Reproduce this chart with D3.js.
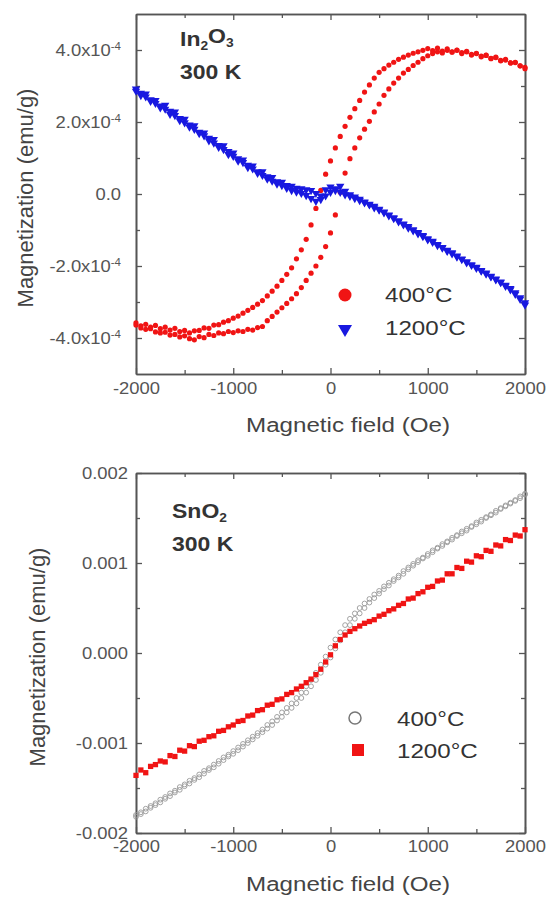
<!DOCTYPE html>
<html>
<head>
<meta charset="utf-8">
<script src="https://cdn.jsdelivr.net/npm/d3@7/dist/d3.min.js"></script>
<style>
  body { margin: 0; background: #fff; }
  text { font-family: "Liberation Sans", Arial, sans-serif; }
</style>
</head>
<body>
<script>
//field sweep (Oe), same grid for every branch
const fields = [-2000,-1950,-1900,-1850,-1800,-1750,-1700,-1650,-1600,-1550,-1500,-1450,-1400,-1350,-1300,-1250,-1200,-1150,-1100,-1050,
  -1000,-950,-900,-850,-800,-750,-700,-650,-600,-550,-500,-450,-400,-350,-300,-250,-200,-150,-100,-50,
  0,50,100,150,200,250,300,350,400,450,500,550,600,650,700,750,800,850,900,950,
  1000,1050,1100,1150,1200,1250,1300,1350,1400,1450,1500,1550,1600,1650,1700,1750,1800,1850,1900,1950,2000];

//In2O3, magnetization in units of 1e-4 emu/g
//400C, decreasing-field branch (listed from -2000 to 2000 Oe)
const in400Down = [-3.58,-3.66,-3.62,-3.70,-3.65,-3.74,-3.70,-3.78,-3.73,-3.82,-3.79,-3.86,-3.80,-3.79,-3.72,-3.73,-3.64,-3.63,-3.56,-3.52,
  -3.45,-3.39,-3.31,-3.23,-3.15,-3.06,-2.96,-2.83,-2.70,-2.56,-2.40,-2.23,-2.05,-1.80,-1.55,-1.26,-0.86,-0.40,0.10,0.55,
  0.92,1.28,1.60,1.88,2.13,2.37,2.60,2.83,3.03,3.22,3.38,3.48,3.58,3.66,3.74,3.80,3.86,3.91,3.95,3.99,
  4.04,3.98,4.05,3.97,4.03,3.94,3.99,3.90,3.95,3.86,3.90,3.81,3.85,3.76,3.80,3.70,3.74,3.64,3.66,3.56,3.52];
//400C, increasing-field branch
const in400Up = [-3.64,-3.72,-3.76,-3.74,-3.83,-3.86,-3.84,-3.92,-3.90,-3.97,-3.94,-4.02,-4.05,-3.96,-3.99,-3.90,-3.93,-3.86,-3.88,-3.82,
  -3.85,-3.80,-3.82,-3.76,-3.78,-3.71,-3.68,-3.52,-3.40,-3.28,-3.16,-3.04,-2.91,-2.77,-2.60,-2.40,-2.20,-2.00,-1.76,-1.46,
  -1.08,-0.58,0.05,0.58,0.98,1.28,1.56,1.80,2.02,2.28,2.50,2.74,2.92,3.08,3.22,3.36,3.46,3.57,3.66,3.76,
  3.84,3.90,3.95,3.92,3.99,3.95,4.00,3.93,3.96,3.88,3.91,3.83,3.86,3.77,3.79,3.71,3.72,3.64,3.65,3.56,3.48];
//1200C, two branches
const in1200Down = [2.92,2.80,2.78,2.62,2.60,2.45,2.47,2.30,2.28,2.10,2.08,1.92,1.90,1.72,1.70,1.55,1.52,1.35,1.34,1.18,
  1.14,0.98,0.95,0.80,0.78,0.62,0.62,0.48,0.46,0.34,0.33,0.24,0.22,0.16,0.15,0.12,0.10,0.02,-0.05,0.12,
  0.20,0.10,0.05,-0.02,-0.06,-0.12,-0.18,-0.24,-0.30,-0.38,-0.44,-0.52,-0.60,-0.68,-0.77,-0.85,-0.94,-1.02,-1.10,-1.18,
  -1.27,-1.34,-1.43,-1.50,-1.59,-1.66,-1.75,-1.82,-1.91,-1.98,-2.06,-2.14,-2.22,-2.30,-2.38,-2.46,-2.56,-2.66,-2.78,-2.92,-3.08];
const in1200Up = [2.86,2.74,2.70,2.58,2.52,2.40,2.36,2.22,2.18,2.04,1.98,1.86,1.80,1.68,1.62,1.48,1.42,1.30,1.24,1.10,
  1.05,0.92,0.88,0.74,0.70,0.58,0.52,0.42,0.36,0.28,0.24,0.16,0.10,0.06,0.02,-0.04,-0.12,-0.20,-0.15,-0.05,
  0.05,0.15,0.22,0.08,-0.02,-0.08,-0.14,-0.22,-0.28,-0.34,-0.42,-0.50,-0.58,-0.66,-0.74,-0.83,-0.90,-0.99,-1.07,-1.15,
  -1.24,-1.31,-1.40,-1.48,-1.56,-1.63,-1.72,-1.80,-1.88,-1.96,-2.03,-2.12,-2.19,-2.28,-2.36,-2.44,-2.53,-2.62,-2.74,-2.88,-3.02];

//SnO2, magnetization in units of 1e-3 emu/g
const sn400Up = [-1.82,-1.79,-1.76,-1.72,-1.69,-1.66,-1.62,-1.59,-1.55,-1.52,-1.48,-1.45,-1.41,-1.38,-1.34,-1.30,-1.27,-1.23,-1.19,-1.15,
  -1.12,-1.08,-1.04,-1.00,-0.96,-0.92,-0.88,-0.84,-0.80,-0.75,-0.71,-0.66,-0.61,-0.56,-0.50,-0.44,-0.37,-0.30,-0.22,-0.13,
  -0.05,0.05,0.14,0.23,0.31,0.38,0.44,0.50,0.56,0.61,0.66,0.71,0.75,0.80,0.84,0.88,0.93,0.97,1.01,1.05,
  1.08,1.12,1.16,1.19,1.23,1.26,1.30,1.33,1.36,1.40,1.43,1.46,1.50,1.53,1.56,1.60,1.63,1.66,1.69,1.72,1.76];
const sn400Down = [-1.80,-1.77,-1.73,-1.70,-1.67,-1.63,-1.60,-1.56,-1.53,-1.49,-1.46,-1.42,-1.39,-1.35,-1.31,-1.28,-1.24,-1.20,-1.16,-1.13,
  -1.09,-1.05,-1.01,-0.97,-0.93,-0.89,-0.85,-0.80,-0.76,-0.71,-0.66,-0.61,-0.56,-0.50,-0.44,-0.37,-0.30,-0.22,-0.13,-0.04,
  0.06,0.15,0.23,0.31,0.38,0.44,0.50,0.55,0.60,0.65,0.69,0.74,0.78,0.82,0.86,0.91,0.95,0.99,1.03,1.06,
  1.10,1.14,1.17,1.21,1.24,1.28,1.31,1.35,1.38,1.41,1.45,1.48,1.51,1.54,1.58,1.61,1.64,1.67,1.70,1.74,1.77];
const sn1200 = [-1.36,-1.30,-1.33,-1.26,-1.24,-1.20,-1.21,-1.14,-1.15,-1.08,-1.09,-1.03,-1.04,-0.98,-0.97,-0.93,-0.92,-0.87,-0.86,-0.82,
  -0.80,-0.76,-0.75,-0.70,-0.69,-0.64,-0.63,-0.58,-0.57,-0.52,-0.51,-0.46,-0.44,-0.40,-0.37,-0.33,-0.29,-0.24,-0.18,-0.10,
  -0.02,0.08,0.15,0.20,0.24,0.27,0.30,0.33,0.35,0.37,0.41,0.43,0.47,0.49,0.53,0.55,0.60,0.61,0.66,0.68,
  0.73,0.74,0.80,0.81,0.88,0.88,0.95,0.94,1.02,1.01,1.08,1.07,1.14,1.13,1.20,1.19,1.26,1.25,1.31,1.30,1.37];

//ticks
const xMajor = [-2000, -1000, 0, 1000, 2000];
const xMinor = [-1500, -500, 500, 1500];
const inMajor = [-4, -2, 0, 2, 4];
const inMinor = [-3, -1, 1, 3];
const snMajor = [-2, -1, 0, 1, 2];
const snMinor = [-1.5, -0.5, 0.5, 1.5];

const legendTop = ["400°C", "1200°C"];
const legendBottom = ["400°C", "1200°C"];

const red = "#f01414", blue = "#1818e0", grey = "#999", axisColor = "#555";
const stretch = 1.15; //text in the figure is a bit wide

const svg = d3.select("body").append("svg").attr("width", 552).attr("height", 900);

const x0 = 136, x1 = 525;

function wideText(g, x, y, str) {
  return g.append("text")
    .attr("transform", `translate(${x},${y}) scale(${stretch},1)`)
    .text(str);
}

function styleAxis(sel) {
  sel.selectAll("line").attr("stroke", axisColor).attr("stroke-width", 1.3);
  sel.select(".domain").attr("stroke", axisColor).attr("stroke-width", 1.6);
  sel.selectAll("text").style("font-size", "16px").attr("fill", "#555");
}

function drawPanel(p) {
  const x = d3.scaleLinear().domain([-2000, 2000]).range([x0, x1]);
  const y = d3.scaleLinear().domain(p.yDomain).range([p.bottom, p.top]);
  const g = svg.append("g");

  //minor ticks on all four sides
  const minors = [
    [d3.axisBottom(x).tickValues(xMinor), `translate(0,${p.bottom})`],
    [d3.axisTop(x).tickValues(xMinor), `translate(0,${p.top})`],
    [d3.axisLeft(y).tickValues(p.yMinor), `translate(${x0},0)`],
    [d3.axisRight(y).tickValues(p.yMinor), `translate(${x1},0)`]
  ];
  minors.forEach(([ax, tr]) => {
    g.append("g").attr("transform", tr)
      .call(ax.tickSizeInner(-4).tickSizeOuter(0).tickFormat(""))
      .call(styleAxis);
  });

  //major ticks, mirrored
  g.append("g").attr("transform", `translate(0,${p.top})`)
    .call(d3.axisTop(x).tickValues(xMajor).tickSizeInner(-6).tickSizeOuter(0).tickFormat(""))
    .call(styleAxis);
  g.append("g").attr("transform", `translate(${x1},0)`)
    .call(d3.axisRight(y).tickValues(p.yMajor).tickSizeInner(-6).tickSizeOuter(0).tickFormat(""))
    .call(styleAxis);

  const xAxis = g.append("g").attr("transform", `translate(0,${p.bottom})`)
    .call(d3.axisBottom(x).tickValues(xMajor).tickFormat((d) => String(d))
      .tickSizeInner(-6).tickSizeOuter(0).tickPadding(p.xPad))
    .call(styleAxis);
  xAxis.selectAll(".tick text").attr("transform", `scale(${stretch},1)`);

  const yAxis = g.append("g").attr("transform", `translate(${x0},0)`)
    .call(d3.axisLeft(y).tickValues(p.yMajor).tickSizeInner(-6).tickSizeOuter(0).tickPadding(p.yPad / stretch))
    .call(styleAxis);
  yAxis.selectAll(".tick text")
    .attr("transform", `scale(${stretch},1)`)
    .each(function (d) {
      const t = d3.select(this).text(null);
      const lab = p.yLabel(d);
      t.append("tspan").text(lab[0]);
      if (lab[1]) t.append("tspan").attr("dy", "-0.6em").style("font-size", "10px").text(lab[1]);
    });

  //axis titles
  wideText(g, 348, p.bottom + 58, "Magnetic field (Oe)")
    .attr("text-anchor", "middle").style("font-size", "21px").attr("fill", "#444");
  g.append("text")
    .attr("transform", `translate(${p.yTitleX},${(p.top + p.bottom) / 2 + 4}) rotate(-90)`)
    .attr("text-anchor", "middle").style("font-size", "22px").attr("fill", "#444")
    .text("Magnetization (emu/g)");

  //sample label
  const lab1 = g.append("text")
    .attr("transform", `translate(${p.labelX},${p.labelY}) scale(${stretch},1)`)
    .style("font-size", "20px").style("font-weight", "bold").attr("fill", "#333");
  p.sample.forEach(([s, sub], i) => {
    lab1.append("tspan").attr("dy", sub ? "0.35em" : (i > 0 ? "-0.35em" : 0))
      .style("font-size", sub ? "12px" : "20px").text(s);
  });
  wideText(g, p.labelX, p.labelY + 33, "300 K")
    .style("font-size", "20px").style("font-weight", "bold").attr("fill", "#333");

  return { g, x, y };
}

//top panel: In2O3
const panelA = drawPanel({
  top: 14, bottom: 374, yDomain: [-5, 5], yMajor: inMajor, yMinor: inMinor,
  xPad: 9, yPad: 15, yTitleX: 33, labelX: 180, labelY: 46,
  yLabel: (d) => (d === 0 ? ["0.0"] : [d.toFixed(1) + "x10", "-4"]),
  sample: [["In", false], ["2", true], ["O", false], ["3", true]]
});

const pts = (vals) => vals.map((m, i) => [fields[i], m]);

panelA.g.append("g").selectAll("circle")
  .data(pts(in400Down).concat(pts(in400Up)))
  .join("circle")
  .attr("cx", (d) => panelA.x(d[0]))
  .attr("cy", (d) => panelA.y(d[1]))
  .attr("r", 2.6)
  .attr("fill", red);

const tri = d3.symbol(d3.symbolTriangle, 30);
panelA.g.append("g").selectAll("path")
  .data(pts(in1200Down).concat(pts(in1200Up)))
  .join("path")
  .attr("d", tri)
  .attr("transform", (d) => `translate(${panelA.x(d[0])},${panelA.y(d[1])}) rotate(180)`)
  .attr("fill", blue);

//legend top
const lt = panelA.g.append("g");
lt.append("circle").attr("cx", 345).attr("cy", 295).attr("r", 6.5).attr("fill", red);
lt.append("path").attr("d", d3.symbol(d3.symbolTriangle, 85))
  .attr("transform", "translate(345,329) rotate(180)").attr("fill", blue);
legendTop.forEach((s, i) => {
  wideText(lt, 385, 302 + i * 33, s).style("font-size", "21px").attr("fill", "#333");
});

//bottom panel: SnO2
const panelB = drawPanel({
  top: 473, bottom: 833, yDomain: [-2, 2], yMajor: snMajor, yMinor: snMinor,
  xPad: 8, yPad: 8, yTitleX: 45, labelX: 172, labelY: 518,
  yLabel: (d) => [(d / 1000).toFixed(3)],
  sample: [["SnO", false], ["2", true]]
});

panelB.g.append("g").selectAll("circle")
  .data(pts(sn400Up).concat(pts(sn400Down)))
  .join("circle")
  .attr("cx", (d) => panelB.x(d[0]))
  .attr("cy", (d) => panelB.y(d[1]))
  .attr("r", 2.4)
  .attr("fill", "none")
  .attr("stroke", grey)
  .attr("stroke-width", 0.9);

const sq = d3.symbol(d3.symbolSquare, 28);
panelB.g.append("g").selectAll("path")
  .data(pts(sn1200))
  .join("path")
  .attr("d", sq)
  .attr("transform", (d) => `translate(${panelB.x(d[0])},${panelB.y(d[1])})`)
  .attr("fill", red);

//legend bottom
const lb = panelB.g.append("g");
lb.append("circle").attr("cx", 355).attr("cy", 718).attr("r", 6)
  .attr("fill", "none").attr("stroke", "#777").attr("stroke-width", 1.5);
lb.append("rect").attr("x", 352).attr("y", 744).attr("width", 12).attr("height", 12).attr("fill", red);
legendBottom.forEach((s, i) => {
  wideText(lb, 397, 726 + i * 32, s).style("font-size", "21px").attr("fill", "#333");
});
</script>
</body>
</html>
